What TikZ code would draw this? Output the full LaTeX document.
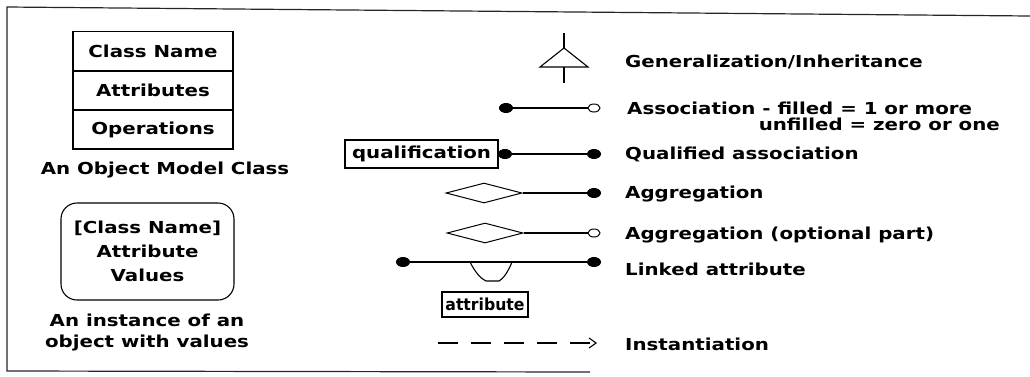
\documentclass[tikz,border=0pt]{standalone}
\usepackage{fontspec}
\newfontfamily\lblfont{DejaVu Sans Bold}[FakeStretch=1.2]
\newfontfamily\narrowlbl{DejaVu Sans Bold}[FakeStretch=0.95]
\usetikzlibrary{shapes.geometric,arrows.meta}
\begin{document}
\begin{tikzpicture}[x=1pt,y=-1pt,
  every node/.style={font=\lblfont\fontsize{16.5}{20}\selectfont, inner sep=0pt},
  ln/.style={line width=1.1pt},
  cellbox/.style={draw, line width=1.1pt, minimum width=160pt, minimum height=39pt},
  lbl/.style={anchor=west},
  dotf/.style={ellipse, draw, line width=1pt, fill=black, minimum width=13pt, minimum height=9pt},
  dotu/.style={ellipse, draw, line width=1pt, fill=white, minimum width=12pt, minimum height=8pt},
  dia/.style={diamond, draw, line width=1pt, minimum width=76pt, minimum height=20pt},
  tagbox/.style={draw, line width=1.1pt}
]
\useasboundingbox (0,0) rectangle (1030,376);
% frame
\draw[line width=1.2pt, black!85] (1030,16) -- (7,7) -- (7,371) -- (590,372);

% class box
\node[cellbox] (cn) at (153,51) {Class Name};
\node[cellbox] (ca) at (153,90.5) {Attributes};
\node[cellbox] (co) at (153,129.5) {Operations};
\node (cap1) at (165,170) {An Object Model Class};

% instance
\node[draw, line width=1.1pt, rounded corners=16pt, minimum width=173pt, minimum height=97pt,
      align=center, font=\lblfont\fontsize{16.5}{24}\selectfont] (inst) at (147.5,251.5)
      {[Class Name]\\Attribute\\Values};
\node[align=center, font=\lblfont\fontsize{16.5}{21}\selectfont] (cap2) at (147,333)
      {An instance of an\\object with values};

% generalization
\coordinate (gtop) at (564,33);
\coordinate (gapex) at (564,48);
\coordinate (gbl) at (540,67);
\coordinate (gbr) at (588,67);
\coordinate (gbm) at (564,67);
\coordinate (gbot) at (564,83);
\draw[ln] (gtop) -- (gapex);
\draw[ln] (gapex) -- (gbl) -- (gbr) -- cycle;
\draw[ln] (gbm) -- (gbot);
\node[lbl] (lgen) at (625,62) {Generalization/Inheritance};

% association
\node[dotf] (a1) at (506,108) {};
\node[dotu] (a2) at (594,108) {};
\draw[ln] (a1) -- (a2);
\node[lbl] (las1) at (627,108) {Association - filled = 1 or more};
\node[anchor=east] (las2) at (1000,124) {unfilled = zero or one};

% qualified association
\node[tagbox, minimum width=153pt, minimum height=28pt] (q) at (421.5,154) {qualification};
\node[dotf] (q1) at (505,154) {};
\node[dotf] (q2) at (594,154) {};
\draw[ln] (q1) -- (q2);
\node[lbl] (lq) at (625,154) {Qualified association};

% aggregation
\node[dia] (d1) at (484,193) {};
\node[dotf] (d2) at (594,193) {};
\draw[ln] (d1.east) -- (d2);
\node[lbl] (lag) at (625,194) {Aggregation};

% aggregation optional
\node[dia] (e1) at (485,233) {};
\node[dotu] (e2) at (594,233) {};
\draw[ln] (e1.east) -- (e2);
\node[lbl] (lago) at (625,235) {Aggregation (optional part)};

% linked attribute
\node[dotf] (l1) at (403,262) {};
\node[dotf] (l2) at (594,262) {};
\draw[ln] (l1) -- (l2);
\coordinate (cupl) at (470,262);
\coordinate (cupr) at (512,262);
\coordinate (cupbl) at (486,281);
\coordinate (cupbr) at (499,281);
\draw[ln] (cupl) .. controls (475,272) and (481,279) .. (cupbl) -- (cupbr) .. controls (503,279) and (508,272) .. (cupr);
\node[tagbox, minimum width=86pt, minimum height=25pt, font=\narrowlbl\fontsize{16.5}{20}\selectfont] (ab) at (485,304.5) {attribute};
\node[lbl] (llink) at (625,269) {Linked attribute};

% instantiation
\coordinate (i1) at (438,343);
\coordinate (i2) at (597,343);
\draw[ln, dash pattern=on 20pt off 13pt, -{Straight Barb[length=7pt,width=10pt]}] (i1) -- (i2);
\node[lbl] (linst) at (625,344) {Instantiation};
\end{tikzpicture}
\end{document}
